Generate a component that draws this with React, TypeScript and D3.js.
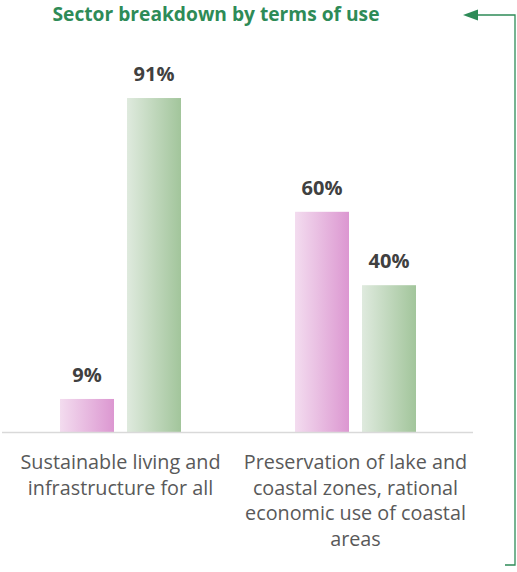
import React from "react";
import * as d3 from "d3";

const categories = ["Sustainable living and infrastructure for all", "Preservation of lake and coastal zones, rational economic use of coastal areas"];
const categoryLines = [
  ["Sustainable living and", "infrastructure for all"],
  ["Preservation of lake and", "coastal zones, rational", "economic use of coastal", "areas"],
];
const seriesNames = ["A", "B"];
const seriesA = [9, 60];
const seriesB = [91, 40];
const title = "Sector breakdown by terms of use";

export default function App() {
  const W = 517, H = 572;
  const x0 = d3.scaleBand<string>().domain(categories).range([3, 473]);
  const y = d3.scaleLinear().domain([0, 100]).range([432, 65]);
  const barW = 54;
  const offs = [57, 124];
  const fills = ["url(#gPink)", "url(#gGreen)"];
  const series = [seriesA, seriesB];
  const font = "'Open Sans', 'Liberation Sans', sans-serif";
  return (
    <svg width={W} height={H} style={{ position: "absolute", left: 0, top: 0 }}>
      <defs>
        <linearGradient id="gPink" x1="0" x2="1" y1="0" y2="0">
          <stop offset="0" stopColor="#f3dcef" />
          <stop offset="1" stopColor="#dc97d1" />
        </linearGradient>
        <linearGradient id="gGreen" x1="0" x2="1" y1="0" y2="0">
          <stop offset="0" stopColor="#dfeade" />
          <stop offset="1" stopColor="#a2c59b" />
        </linearGradient>
      </defs>
      <rect width={W} height={H} fill="#fff" />
      <text x={216} y={21} textAnchor="middle" fill="#2e8b57" fontFamily={font} fontWeight={700} fontSize={19.2}>{title}</text>
      {/* arrow */}
      <path d="M505,565 H515 V15 H477" fill="none" stroke="#2e8b57" strokeWidth={1.3} />
      <path d="M463,15 L478,9.5 L478,20.5 Z" fill="#2e8b57" />
      {series.map((vals, si) =>
        categories.map((c, ci) => {
          const bx = (x0(c) as number) + offs[si];
          const v = vals[ci];
          return (
            <g key={`${si}-${ci}`}>
              <rect x={bx} y={y(v)} width={barW} height={y(0) - y(v)} fill={fills[si]} />
              <text x={bx + barW / 2} y={y(v) - 17} textAnchor="middle" fill="#404040" fontFamily={font} fontWeight={700} fontSize={20}>{v}%</text>
            </g>
          );
        })
      )}
      <line x1={2} x2={473} y1={432.5} y2={432.5} stroke="#d9d9d9" strokeWidth={1.5} />
      {categories.map((c, ci) => (
        <text key={c} textAnchor="middle" fill="#595959" fontFamily={font} fontSize={19.8}>
          {categoryLines[ci].map((l, li) => (
            <tspan key={li} x={(x0(c) as number) + x0.bandwidth() / 2} y={469 + li * 25.6}>{l}</tspan>
          ))}
        </text>
      ))}
    </svg>
  );
}
